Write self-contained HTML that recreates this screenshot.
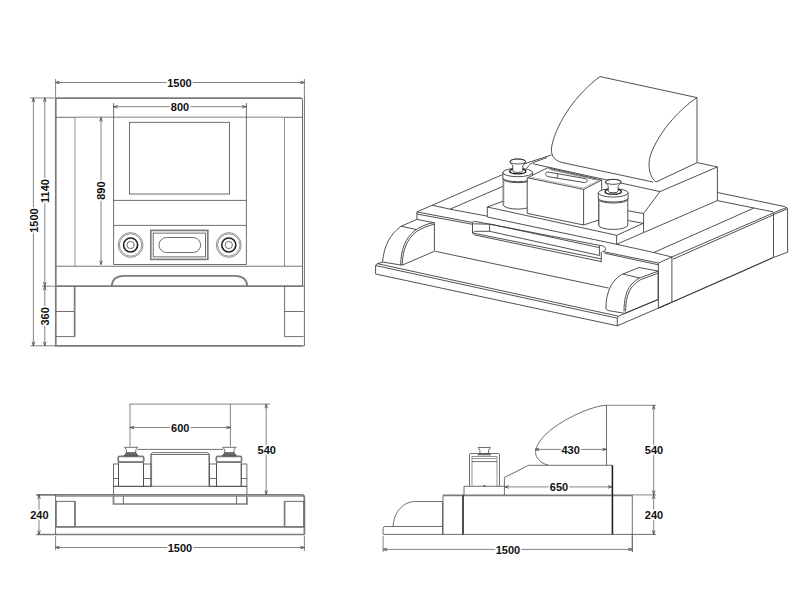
<!DOCTYPE html>
<html><head><meta charset="utf-8">
<style>
html,body{margin:0;padding:0;background:#fff;width:800px;height:600px;overflow:hidden}
svg{display:block}
.l{fill:none;stroke:#4a4a4a;stroke-width:0.8}
.g{fill:none;stroke:#777;stroke-width:0.8}
.t{fill:none;stroke:#7c7c7c;stroke-width:1.7}
.k{fill:none;stroke:#222;stroke-width:1.6}
.d{fill:none;stroke:#666;stroke-width:0.8}
.i path,.i ellipse{fill:none;stroke:#333;stroke-width:0.85;stroke-linejoin:round}
.i .k{stroke:#111;stroke-width:1.3}
.i .w{fill:#fff;stroke:none}
.i .ws{fill:#fff}
.i .g2{stroke:#888;stroke-width:0.6}
.i .h{stroke:#555;stroke-width:1.6;stroke-dasharray:0.6 0.9}
text{font-family:"Liberation Sans",sans-serif;font-weight:bold;font-size:11px;fill:#111;text-anchor:middle;dominant-baseline:central;stroke:#fff;stroke-width:3px;paint-order:stroke;stroke-linejoin:round}
</style></head>
<body>
<svg width="800" height="600" viewBox="0 0 800 600">
<defs>
<marker id="a" viewBox="-6 -3 7 6" markerWidth="7" markerHeight="6" refX="0" refY="0" orient="auto-start-reverse" markerUnits="userSpaceOnUse">
<path d="M-4,-1.3 L0,0 L-4,1.3" fill="none" stroke="#444" stroke-width="0.8"/>
</marker>
</defs>

<!-- ============ FRONT VIEW ============ -->
<g id="front">
<!-- outer box -->
<path class="t" d="M303.6,345.8 H55.8 V98.1 H301.5"/>
<path class="l" d="M300.8,98.1 Q302.5,98.1 302.5,99.8 V286" stroke-width="1"/>
<line class="l" x1="304.4" y1="97" x2="304.4" y2="346.2" stroke-width="1.1"/>
<path class="l" d="M56,117.3 H75 M284.5,117.3 H302.5" stroke-width="1"/>
<line x1="75" y1="117.3" x2="284.5" y2="117.3" stroke="#aaa" stroke-width="1.5"/>
<!-- columns -->
<line class="g" x1="75" y1="117.4" x2="75" y2="266"/>
<line class="g" x1="284.5" y1="117.4" x2="284.5" y2="266"/>
<!-- panel -->
<line class="l" x1="113.6" y1="103" x2="113.6" y2="264.5"/>
<line class="l" x1="246.4" y1="103" x2="246.4" y2="264.5"/>
<rect class="l" x="129.4" y="122.3" width="100.1" height="71.7"/>
<line class="l" x1="113.6" y1="200.4" x2="246.2" y2="200.4"/>
<line class="l" x1="113.6" y1="225.4" x2="246.2" y2="225.4"/>
<!-- knobs -->
<g transform="translate(130.6,245)">
<circle class="g" r="12.4" stroke-width="0.7"/><circle class="g" r="11.2" stroke-width="0.7"/>
<circle class="k" r="7" stroke-width="1.3"/><circle class="l" r="3.6"/>
</g>
<g transform="translate(228.8,245)">
<circle class="g" r="12.4" stroke-width="0.7"/><circle class="g" r="11.2" stroke-width="0.7"/>
<circle class="k" r="7" stroke-width="1.3"/><circle class="l" r="3.6"/>
</g>
<!-- button -->
<rect class="t" x="150.8" y="230.4" width="57" height="29" stroke-width="1.3"/>
<rect class="l" x="153.2" y="233.1" width="52.2" height="23.8"/>
<rect class="l" x="159" y="237.5" width="41.6" height="15" rx="7.5"/>
<!-- module bottom -->
<line class="l" x1="113.6" y1="264.5" x2="246.4" y2="264.5"/>
<line x1="56" y1="266.2" x2="302.5" y2="266.2" stroke="#777" stroke-width="1.1"/>
<!-- handle -->
<path class="t" d="M111.8,286.2 C112,280 116,276 123.8,275.9 H235 C243,276 247,280 247.2,286.2" stroke-width="1.2"/>
<!-- base -->
<line class="t" x1="56" y1="286.2" x2="303.6" y2="286.2"/>
<path class="l" d="M56,336.6 H74.6 V286.2 M56,311.5 H74.6"/>
<line class="t" x1="74.6" y1="286.2" x2="74.6" y2="336.6" stroke-width="1.2"/>
<path class="l" d="M303.6,336.6 H284.6 V286.2 M284.6,311.5 H303.6"/>
</g>

<!-- front dims -->
<g>
<path class="d" d="M55.6,79 V97 M304.4,79 V97"/>
<line class="d" x1="55.6" y1="82.5" x2="304.4" y2="82.5" marker-start="url(#a)" marker-end="url(#a)"/>
<text x="179.5" y="82.7">1500</text>
<line class="d" x1="113.6" y1="106.7" x2="246.2" y2="106.7" marker-start="url(#a)" marker-end="url(#a)"/>
<text x="180" y="106.9">800</text>
<path class="d" d="M30,98 H55 M30.6,345.8 H55 M42,286.2 H55"/>
<line class="d" x1="33.4" y1="97.8" x2="33.4" y2="345.8" marker-start="url(#a)" marker-end="url(#a)"/>
<text transform="translate(33.8,220.6) rotate(-90)">1500</text>
<line class="d" x1="44.8" y1="97.8" x2="44.8" y2="286.2" marker-start="url(#a)" marker-end="url(#a)"/>
<text transform="translate(45.2,191) rotate(-90)">1140</text>
<line class="d" x1="44.8" y1="286.2" x2="44.8" y2="345.8" marker-start="url(#a)" marker-end="url(#a)"/>
<text transform="translate(45.2,316.4) rotate(-90)">360</text>
<line class="d" x1="101" y1="117.5" x2="101" y2="264.6" marker-start="url(#a)" marker-end="url(#a)"/>
<text transform="translate(101.2,190.6) rotate(-90)">890</text>
</g>

<!-- ============ BACK VIEW (bottom-left) ============ -->
<g id="back">
<path class="t" d="M36.2,494.8 H301.6 Q304.4,494.8 304.4,497.6 V534.5 H36.2" stroke-width="1.2"/>
<line class="g" x1="55.6" y1="496.3" x2="304" y2="496.3"/>
<line class="l" x1="55.6" y1="494.8" x2="55.6" y2="534.5"/>
<rect class="l" x="56.2" y="501.3" width="18.8" height="25.6"/>
<line class="t" x1="75" y1="501.3" x2="75" y2="526.9" stroke-width="1.1"/>
<rect class="l" x="284.4" y="501.3" width="19.4" height="25.6"/>
<line class="t" x1="284.6" y1="501.3" x2="284.6" y2="526.9" stroke-width="1.1"/>
<line class="t" x1="56" y1="526.9" x2="304" y2="526.9" stroke-width="1.1"/>
<!-- platform -->
<path class="l" d="M113.5,494.8 V486.3 H246.9 V494.8"/>
<path class="t" d="M113.5,496.3 V504 H246.9 V496.3" stroke-width="1.1"/>
<path class="l" d="M123.4,496.3 V504 M236.6,496.3 V504"/>
<!-- cylinders -->
<g id="cylL">
<rect class="l" x="113.5" y="464" width="5" height="22.3"/><line class="l" x1="113.5" y1="478.5" x2="118.5" y2="478.5"/>
<rect class="l" x="143.5" y="464" width="7.7" height="22.3"/><line class="l" x1="143.5" y1="478.5" x2="151.2" y2="478.5"/>
<rect class="l" x="118.5" y="462" width="25" height="24.3"/>
<rect class="t" x="118.2" y="456.3" width="25.5" height="5.8" rx="1.5" stroke-width="1.1"/>
<path class="l" d="M124.3,447.3 H137.8 L136,449.3 L135.6,452.9 M124.3,447.3 L126.2,449.3 L126.6,452.9"/>
<path d="M126.4,452.6 H135.8 L138.3,455.9 H123.9 Z" fill="#6a6a6a" stroke="#333" stroke-width="0.5"/>
</g>
<g id="cylR">
<rect class="l" x="209.4" y="464" width="7.2" height="22.3"/><line class="l" x1="209.4" y1="478.5" x2="216.6" y2="478.5"/>
<rect class="l" x="241.2" y="464" width="5.7" height="22.3"/><line class="l" x1="241.2" y1="478.5" x2="246.9" y2="478.5"/>
<rect class="l" x="216.6" y="462" width="24.6" height="24.3"/>
<rect class="t" x="216.3" y="456.3" width="25.3" height="5.8" rx="1.5" stroke-width="1.1"/>
<path class="l" d="M222.6,447.3 H236.1 L234.3,449.3 L233.9,452.9 M222.6,447.3 L224.5,449.3 L224.9,452.9"/>
<path d="M224.7,452.6 H234.1 L236.6,455.9 H222.2 Z" fill="#6a6a6a" stroke="#333" stroke-width="0.5"/>
</g>
<!-- centre box -->
<path class="l" d="M150.8,486.3 V454.5 H209.5 V486.3 M150.8,454.5 L152.2,452.6 H207.8 L209.5,454.5"/>
<path class="g" d="M151.6,486.3 V455.2 M208.8,486.3 V455.2" stroke-width="0.6"/>
<line class="l" x1="137.5" y1="449.4" x2="223" y2="449.4"/>
</g>
<!-- back dims -->
<g>
<path class="d" d="M130,404 V446.5 M230.4,404 V446.5 M129.6,404.1 H270"/>
<line class="d" x1="130" y1="427.5" x2="230.4" y2="427.5" marker-start="url(#a)" marker-end="url(#a)"/>
<text x="180.2" y="427.7">600</text>
<line class="d" x1="266.2" y1="404.2" x2="266.2" y2="494.5" marker-start="url(#a)" marker-end="url(#a)"/>
<text x="266.8" y="449.6">540</text>
<line class="d" x1="39" y1="494.8" x2="39" y2="534.4" marker-start="url(#a)" marker-end="url(#a)"/>
<text x="39.4" y="514.6">240</text>
<path class="d" d="M55.6,536 V550 M304.4,536 V551"/>
<line class="d" x1="55.6" y1="547.5" x2="304.4" y2="547.5" marker-start="url(#a)" marker-end="url(#a)"/>
<text x="180" y="547.7">1500</text>
</g>

<!-- ============ SIDE VIEW (bottom-right) ============ -->
<g id="side">
<path class="l" d="M383.1,534.4 V528.5 Q383.1,526.5 385.1,526.5 H442.5" stroke-width="1"/>
<path class="l" d="M393.1,526.3 C394,511 404,501.5 415.5,501.5 H442.5" stroke-width="1.1"/>
<line class="l" x1="442.6" y1="501.5" x2="442.6" y2="534.4" stroke-width="1"/>
<line class="l" x1="383.1" y1="534.4" x2="656" y2="534.4" stroke-width="1"/>
<line class="t" x1="443" y1="495.3" x2="632.3" y2="495.3" stroke-width="1.5"/>
<line class="l" x1="443" y1="495.3" x2="443" y2="534.4"/>
<line class="k" x1="463" y1="495.3" x2="463" y2="534.4" stroke-width="1.1"/>
<line class="k" x1="612.4" y1="465.3" x2="612.4" y2="534.4" stroke-width="1"/>
<line class="l" x1="632.3" y1="495.3" x2="632.3" y2="552"/>
<!-- platform -->
<path class="l" d="M464,495.3 V486.3 H504.4 V495.3"/>
<!-- cylinder -->
<path class="l" d="M469.5,486.3 V454.8 Q469.5,453.5 470.8,453.5 H498.2 Q499.5,453.5 499.5,454.8 V486.3"/>
<path class="g" d="M472,486.3 V456.5 M497,486.3 V456.5 M472,456.5 H497 M472,458.6 H497"/>
<line class="l" x1="472" y1="461.6" x2="497" y2="461.6" stroke-width="1.2"/>
<path class="l" d="M478,447.5 H490.5 L488.6,450 V453.6 M478,447.5 L479.9,450 V453.6"/>
<path d="M479.5,453.4 H489 L490.8,455 H477.7 Z" fill="#777" stroke="#444" stroke-width="0.5"/>
<circle cx="484.4" cy="485.8" r="0.9" fill="#333"/>
<!-- pedestal -->
<path class="l" d="M504.4,486.3 V477.5 L528.6,465.3 H612.4"/>
<!-- hood -->
<path class="l" d="M606.5,465.3 V405.3 C596,405.3 570,415 552,429 C538,440 533.5,450 536.5,456.5 C538.5,461 543,463.8 548,465"/>
</g>
<!-- side dims -->
<g>
<path class="d" d="M606,405.3 H656 M632,494.9 H656"/>
<line class="d" x1="653.7" y1="405.4" x2="653.7" y2="494.5" marker-start="url(#a)" marker-end="url(#a)"/>
<text x="654" y="450.2">540</text>
<line class="d" x1="535" y1="449.4" x2="606.4" y2="449.4" marker-start="url(#a)" marker-end="url(#a)"/>
<text x="570.6" y="449.6">430</text>
<line class="d" x1="504.8" y1="486.9" x2="612" y2="486.9" marker-start="url(#a)" marker-end="url(#a)"/>
<text x="559" y="487.1">650</text>
<line class="d" x1="653.7" y1="494.8" x2="653.7" y2="534.4" marker-start="url(#a)" marker-end="url(#a)"/>
<text x="654" y="514.6">240</text>
<path class="d" d="M383.1,536 V552 M632.3,536 V552"/>
<line class="d" x1="383.1" y1="549.4" x2="632.3" y2="549.4" marker-start="url(#a)" marker-end="url(#a)"/>
<text x="508" y="549.6">1500</text>
</g>

<!-- ============ ISOMETRIC VIEW ============ -->
<g id="iso" class="i">
<!-- HOOD -->
<path d="M600,76.6 L697,97.6 V162.6"/>
<path d="M600,76.6 C577,93 557,122 552,145 C550,154 553,160 562,162.5 L653,182"/>
<path d="M697,97.6 C677,111 658,134 650.5,155 C647,166 650,178 656,182 L697.2,162.6"/>
<!-- PEDESTAL -->
<path d="M697.2,162.6 L717.4,166.9 V200.6 M717.4,166.9 L660,191.6 L643.6,213.4 V232"/>
<path d="M533,163.8 L660,191.6"/>
<path d="M627.5,210.7 L643.6,213.6 M627.5,220.4 L643.6,223.4"/>
<path d="M523.2,164.2 L551.7,154.9 M526.5,168.5 C529,165 531,163 536,161.5 L547,157.5"/>
<!-- BACK RIM / BODY TOP -->
<path d="M416.9,211.9 L503,174.4 M432.5,205.3 L450,209.2 L503,186.3"/>
<path d="M416.9,211.9 V219.4 M416.9,211.9 L472.5,222.5 M416.9,214 L472.5,224.3"/>
<path d="M450,209.2 L487.5,216.2"/>
<path d="M717.3,192.5 L784.8,206.6 L787.6,208.4 V252.2 L773.5,257.5 V212.8 L786.5,207.6 M773.5,214.6 L787,209"/>
<path d="M717.3,200.6 L773.1,211.9"/>
<path d="M773.1,213.1 L671.9,257 M773.1,215 L673,259.2"/>
<path d="M753.8,208.1 L653.8,252.5"/>
<!-- PLATFORM -->
<path d="M487.3,207 V217 L616.6,244.3 L717.3,200.6 M487.3,207 L503,201.2 M487.3,207 L616.6,235.3 V244.3 M616.6,235.3 L643.6,223.2"/>
<!-- LEFT CYLINDER (behind box) -->
<path class="w" d="M502.85,172.50 A14.9,4.2 0 0 1 532.65,172.50 V204.70 A14.9,4.4 0 0 1 502.85,204.70 Z"/>
<ellipse cx="517.75" cy="172.50" rx="14.9" ry="4.2"/>
<path d="M502.85,172.50 V178.10 A14.9,3.57 0 0 0 532.65,178.10 V172.50"/>
<path d="M503.45,179.30 A14.3,3.36 0 0 0 532.05,179.30"/>
<path d="M503.15,178.10 V204.70 A14.6,4.4 0 0 0 532.35,204.70 V178.10"/>
<path class="g2" d="M503.95,179.60 V205.20"/>
<ellipse class="k" cx="517.75" cy="171.30" rx="8.1" ry="2.5"/>
<path class="ws" d="M509.95,161.50 A7.8,2.5 0 0 1 525.55,161.50 C525.35,163.70 522.95,164.50 522.75,166.00 V170.80 A5,1.6 0 0 1 512.75,170.80 V166.00 C512.55,164.50 510.15,163.70 509.95,161.50 Z"/>
<ellipse cx="517.75" cy="161.50" rx="7.8" ry="2.5"/>
<!-- CENTRAL BOX -->
<path class="w" d="M527.4,177.8 L547.6,167.8 L601.7,180.1 V219 L583.6,225 L527.2,213.4 Z"/>
<path d="M527.4,177.8 L583.6,189.4 L601.7,180.1 L547.6,167.8 Z"/>
<path class="g2" d="M529.5,176.9 L583.4,188 L599.5,180"/>
<path class="g2" d="M549.5,169.6 L597.5,180.3"/>
<path class="h" d="M551,169.3 L596,179.4"/>
<path d="M527.2,177.8 V213.4 L583.6,225 L601.7,219 V180.1 M583.6,189.4 V225"/>
<path d="M548,172 L584,178.4 C588,179 588.5,182.4 584.5,182.6 L549,176.8 C545,176.3 544,172.5 548,172 Z M557,173.6 C558.2,175 558.2,177 556.6,178.3"/>
<!-- RIGHT CYLINDER -->
<path class="w" d="M598.30,192.85 A14.9,4.2 0 0 1 628.10,192.85 V225.05 A14.9,4.4 0 0 1 598.30,225.05 Z"/>
<ellipse cx="613.20" cy="192.85" rx="14.9" ry="4.2"/>
<path d="M598.30,192.85 V198.45 A14.9,3.57 0 0 0 628.10,198.45 V192.85"/>
<path d="M598.90,199.65 A14.3,3.36 0 0 0 627.50,199.65"/>
<path d="M598.60,198.45 V225.05 A14.6,4.4 0 0 0 627.80,225.05 V198.45"/>
<path class="g2" d="M599.40,199.95 V225.55"/>
<ellipse class="k" cx="613.20" cy="191.65" rx="8.1" ry="2.5"/>
<path class="ws" d="M605.40,181.85 A7.8,2.5 0 0 1 621.00,181.85 C620.80,184.05 618.40,184.85 618.20,186.35 V191.15 A5,1.6 0 0 1 608.20,191.15 V186.35 C608.00,184.85 605.60,184.05 605.40,181.85 Z"/>
<ellipse cx="613.20" cy="181.85" rx="7.8" ry="2.5"/>
<!-- body front top edge and slot -->
<path d="M475,221.4 L599.75,245.4 C603.5,245.8 606,247.2 605.6,249.2 C605.2,250.6 603.8,251.5 602.75,251.5 L658.4,263 L671.9,257 M616.6,244.3 L653.8,252.5 L671.9,257"/>
<path d="M489.75,224 L599.4,247.6 M604.5,253.2 L658.4,264.8"/>
<path d="M472.5,233.3 V222.3 C473,221.6 474,221.4 475,221.4 M473.3,223.8 L489.6,224.2 V231.3 L599.4,255.5 V245.6 M472.5,233.3 C473.3,232 474.3,231.4 475.7,231.3 H489.6"/>
<path d="M472.5,233 L601.25,258.9 M473.6,234.7 L601.25,261.6 M601.25,252 V262.2"/>
<!-- right block front -->
<path d="M658.4,263 V308.1 L773.1,257.5 M671.9,257 V302"/>
<!-- tray back edge -->
<path d="M435.3,251.3 L608.7,288.1"/>
<!-- LEFT CAP -->
<path d="M382.5,262 C384,246 390,234 401.2,226.2 L416.9,219.4 L434.4,222.8 V251.3 L402,265.2 L382.5,262"/>
<path d="M401.2,226.2 L416.4,229.6"/>
<path d="M400.6,265.2 C401,250 405,238 415,230.5 C420,227 427,223.5 434.4,222.5 M402.2,265 C402.6,251 406.5,239.5 416,232 C421,228.5 428,225.5 434.4,224.3"/>
<!-- RIGHT CAP -->
<path d="M606,308 C605.8,297 609,286 616,279 C618.5,276.5 620.5,275 623,274 L639,267.5 L658,271 M623,274 L639.5,278"/>
<path d="M624,311.5 C624,300 626,291 631,285 C634,281.5 636.5,279.5 639.5,278 L658,271.2 M625.6,311.5 C625.6,301 627.6,292.5 632.4,286.5 C635.4,283 638,281 640.6,279.7 L658,273.2"/>
<path d="M606,308 C606,309.5 607,310.4 609,310.7 L624.6,313.3 L658.1,299.4 V271"/>
<!-- TRAY SLAB -->
<path d="M375.6,265.5 V274 L617.3,325.8 V318.2 L375.6,265.5 L377.2,263.6 L382.5,262.2 M377.2,263.6 L618.5,316.2 L658.1,299.6 M617.5,318.2 L618.5,316.2 M617.3,325.8 L670,303.1"/>
<path d="M658.5,308.1 L740,272.5 L773.5,257.5"/>
</g>
</svg>
</body></html>
